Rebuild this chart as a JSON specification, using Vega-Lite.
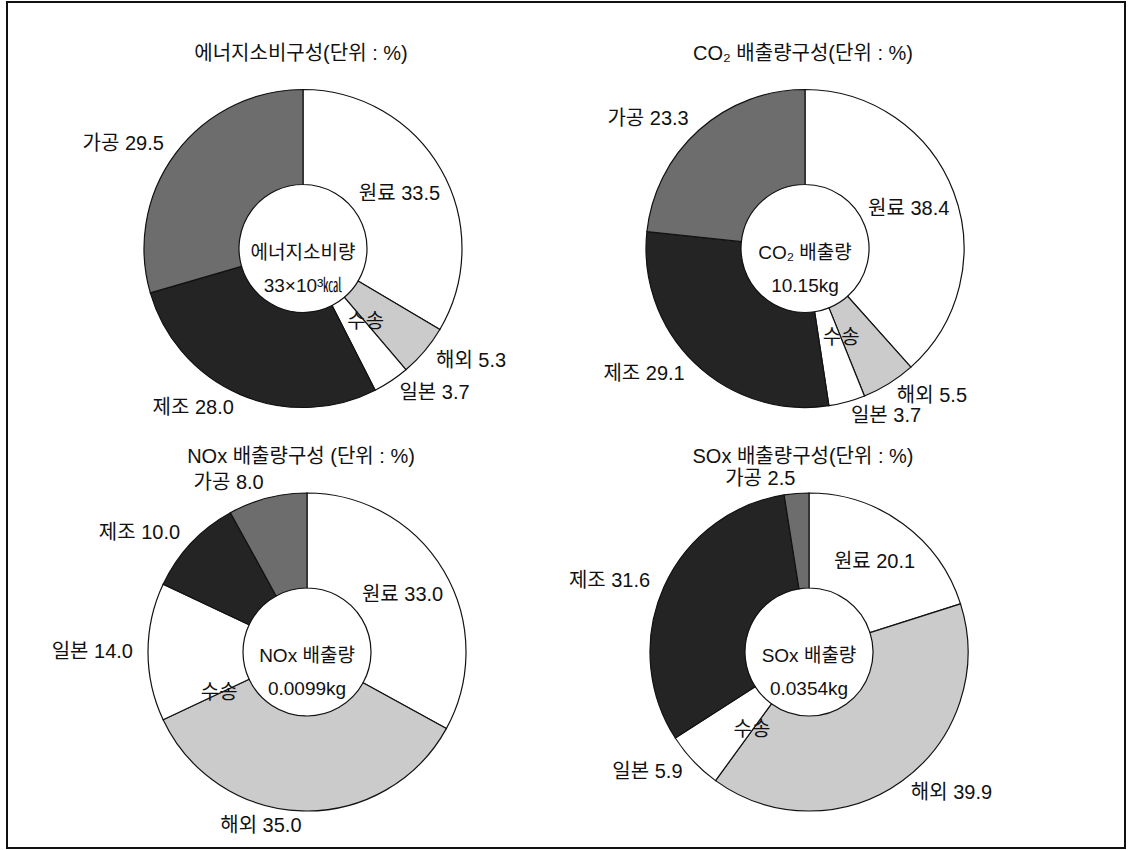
{
  "$schema": "https://vega.github.io/schema/vega-lite/v6.json",
  "width": 1118,
  "height": 846,
  "padding": {"left": 7, "top": 2, "right": 8, "bottom": 2},
  "autosize": {"type": "none"},
  "background": "white",
  "config": {
    "view": {"stroke": "#111111", "strokeWidth": 2},
    "text": {"font": "Liberation Sans, Noto Sans CJK KR", "fontSize": 20, "color": "#111111"}
  },
  "datasets": {
    "panels": [
      {"chart": "energy", "row": "top", "col": "left", "title": "에너지소비구성(단위 : %)", "center": "에너지소비량\n33×10³㎉"},
      {"chart": "co2", "row": "top", "col": "right", "title": "CO₂ 배출량구성(단위 : %)", "center": "CO₂ 배출량\n10.15kg"},
      {"chart": "nox", "row": "bottom", "col": "left", "title": "NOx 배출량구성 (단위 : %)", "center": "NOx 배출량\n0.0099kg"},
      {"chart": "sox", "row": "bottom", "col": "right", "title": "SOx 배출량구성(단위 : %)", "center": "SOx 배출량\n0.0354kg"}
    ],
    "shares": [
      {"chart": "energy", "category": "원료", "seq": 1, "value": 33.5},
      {"chart": "energy", "category": "해외", "seq": 2, "value": 5.3},
      {"chart": "energy", "category": "일본", "seq": 3, "value": 3.7},
      {"chart": "energy", "category": "제조", "seq": 4, "value": 28.0},
      {"chart": "energy", "category": "가공", "seq": 5, "value": 29.5},
      {"chart": "co2", "category": "원료", "seq": 1, "value": 38.4},
      {"chart": "co2", "category": "해외", "seq": 2, "value": 5.5},
      {"chart": "co2", "category": "일본", "seq": 3, "value": 3.7},
      {"chart": "co2", "category": "제조", "seq": 4, "value": 29.1},
      {"chart": "co2", "category": "가공", "seq": 5, "value": 23.3},
      {"chart": "nox", "category": "원료", "seq": 1, "value": 33.0},
      {"chart": "nox", "category": "해외", "seq": 2, "value": 35.0},
      {"chart": "nox", "category": "일본", "seq": 3, "value": 14.0},
      {"chart": "nox", "category": "제조", "seq": 4, "value": 10.0},
      {"chart": "nox", "category": "가공", "seq": 5, "value": 8.0},
      {"chart": "sox", "category": "원료", "seq": 1, "value": 20.1},
      {"chart": "sox", "category": "해외", "seq": 2, "value": 39.9},
      {"chart": "sox", "category": "일본", "seq": 3, "value": 5.9},
      {"chart": "sox", "category": "제조", "seq": 4, "value": 31.6},
      {"chart": "sox", "category": "가공", "seq": 5, "value": 2.5}
    ]
  },
  "data": {"name": "shares"},
  "transform": [
    {"lookup": "chart", "from": {"data": {"name": "panels"}, "key": "chart", "fields": ["row", "col"]}},
    {"calculate": "datum.category + ' ' + format(datum.value, '.1f')", "as": "label"}
  ],
  "encoding": {
    "x": {"field": "col", "type": "nominal", "scale": {"type": "point", "padding": 0, "domain": ["left", "right"], "range": [294, 796]}, "axis": null},
    "y": {"field": "row", "type": "nominal", "scale": {"type": "point", "padding": 0, "domain": ["top", "bottom"], "range": [246.5, 650]}, "axis": null}
  },
  "layer": [
    {
      "data": {"name": "panels"},
      "mark": {"type": "text", "dy": -195, "baseline": "middle"},
      "encoding": {"text": {"field": "title", "type": "nominal"}}
    },
    {
      "transform": [{"filter": {"field": "chart", "equal": "energy"}}],
      "encoding": {
        "xOffset": {"field": "row", "type": "nominal", "scale": {"domain": ["top", "bottom"], "range": [0, 8]}},
        "theta": {"field": "value", "type": "quantitative", "stack": true, "scale": {"domain": [0, 100]}},
        "order": {"field": "seq", "type": "quantitative"},
        "detail": {"field": "category", "type": "nominal"}
      },
      "layer": [
        {"mark": {"type": "arc", "outerRadius": 159, "innerRadius": 64, "stroke": "#111111", "strokeWidth": 1.2},
         "encoding": {"color": {"field": "category", "type": "nominal", "scale": {"domain": ["원료", "해외", "일본", "제조", "가공"], "range": ["#ffffff", "#cbcbcb", "#ffffff", "#242424", "#6d6d6d"]}, "legend": null}}},
        {"mark": {"type": "text", "radius": 174, "align": "left", "baseline": "middle"},
         "encoding": {"text": {"condition": {"test": "datum.category !== '원료' && datum.value_start + datum.value_end < 100", "field": "label"}, "value": ""}}},
        {"mark": {"type": "text", "radius": 174, "align": "right", "baseline": "middle"},
         "encoding": {"text": {"condition": {"test": "datum.category !== '원료' && datum.value_start + datum.value_end >= 100", "field": "label"}, "value": ""}}},
        {"mark": {"type": "text", "radius": 111, "align": "center", "baseline": "middle"},
         "encoding": {"text": {"condition": {"test": "datum.category === '원료'", "field": "label"}, "value": ""}}},
        {"mark": {"type": "text", "radius": 97, "align": "center", "baseline": "middle"},
         "encoding": {
           "theta": {"field": "value", "type": "quantitative", "stack": true, "bandPosition": 1, "scale": {"domain": [0, 100]}},
           "text": {"condition": {"test": "datum.category === '해외'", "value": "수송"}, "value": ""}}}
      ]
    },
    {
      "transform": [{"filter": {"field": "chart", "equal": "co2"}}],
      "encoding": {
        "xOffset": {"field": "row", "type": "nominal", "scale": {"domain": ["top", "bottom"], "range": [0, 8]}},
        "theta": {"field": "value", "type": "quantitative", "stack": true, "scale": {"domain": [0, 100]}},
        "order": {"field": "seq", "type": "quantitative"},
        "detail": {"field": "category", "type": "nominal"}
      },
      "layer": [
        {"mark": {"type": "arc", "outerRadius": 159, "innerRadius": 64, "stroke": "#111111", "strokeWidth": 1.2},
         "encoding": {"color": {"field": "category", "type": "nominal", "scale": {"domain": ["원료", "해외", "일본", "제조", "가공"], "range": ["#ffffff", "#cbcbcb", "#ffffff", "#242424", "#6d6d6d"]}, "legend": null}}},
        {"mark": {"type": "text", "radius": 174, "align": "left", "baseline": "middle"},
         "encoding": {"text": {"condition": {"test": "datum.category !== '원료' && datum.value_start + datum.value_end < 100", "field": "label"}, "value": ""}}},
        {"mark": {"type": "text", "radius": 174, "align": "right", "baseline": "middle"},
         "encoding": {"text": {"condition": {"test": "datum.category !== '원료' && datum.value_start + datum.value_end >= 100", "field": "label"}, "value": ""}}},
        {"mark": {"type": "text", "radius": 111, "align": "center", "baseline": "middle"},
         "encoding": {"text": {"condition": {"test": "datum.category === '원료'", "field": "label"}, "value": ""}}},
        {"mark": {"type": "text", "radius": 97, "align": "center", "baseline": "middle"},
         "encoding": {
           "theta": {"field": "value", "type": "quantitative", "stack": true, "bandPosition": 1, "scale": {"domain": [0, 100]}},
           "text": {"condition": {"test": "datum.category === '해외'", "value": "수송"}, "value": ""}}}
      ]
    },
    {
      "transform": [{"filter": {"field": "chart", "equal": "nox"}}],
      "encoding": {
        "xOffset": {"field": "row", "type": "nominal", "scale": {"domain": ["top", "bottom"], "range": [0, 8]}},
        "theta": {"field": "value", "type": "quantitative", "stack": true, "scale": {"domain": [0, 100]}},
        "order": {"field": "seq", "type": "quantitative"},
        "detail": {"field": "category", "type": "nominal"}
      },
      "layer": [
        {"mark": {"type": "arc", "outerRadius": 159, "innerRadius": 64, "stroke": "#111111", "strokeWidth": 1.2},
         "encoding": {"color": {"field": "category", "type": "nominal", "scale": {"domain": ["원료", "해외", "일본", "제조", "가공"], "range": ["#ffffff", "#cbcbcb", "#ffffff", "#242424", "#6d6d6d"]}, "legend": null}}},
        {"mark": {"type": "text", "radius": 174, "align": "left", "baseline": "middle"},
         "encoding": {"text": {"condition": {"test": "datum.category !== '원료' && datum.value_start + datum.value_end < 100", "field": "label"}, "value": ""}}},
        {"mark": {"type": "text", "radius": 174, "align": "right", "baseline": "middle"},
         "encoding": {"text": {"condition": {"test": "datum.category !== '원료' && datum.value_start + datum.value_end >= 100", "field": "label"}, "value": ""}}},
        {"mark": {"type": "text", "radius": 111, "align": "center", "baseline": "middle"},
         "encoding": {"text": {"condition": {"test": "datum.category === '원료'", "field": "label"}, "value": ""}}},
        {"mark": {"type": "text", "radius": 97, "align": "center", "baseline": "middle"},
         "encoding": {
           "theta": {"field": "value", "type": "quantitative", "stack": true, "bandPosition": 1, "scale": {"domain": [0, 100]}},
           "text": {"condition": {"test": "datum.category === '해외'", "value": "수송"}, "value": ""}}}
      ]
    },
    {
      "transform": [{"filter": {"field": "chart", "equal": "sox"}}],
      "encoding": {
        "xOffset": {"field": "row", "type": "nominal", "scale": {"domain": ["top", "bottom"], "range": [0, 8]}},
        "theta": {"field": "value", "type": "quantitative", "stack": true, "scale": {"domain": [0, 100]}},
        "order": {"field": "seq", "type": "quantitative"},
        "detail": {"field": "category", "type": "nominal"}
      },
      "layer": [
        {"mark": {"type": "arc", "outerRadius": 159, "innerRadius": 64, "stroke": "#111111", "strokeWidth": 1.2},
         "encoding": {"color": {"field": "category", "type": "nominal", "scale": {"domain": ["원료", "해외", "일본", "제조", "가공"], "range": ["#ffffff", "#cbcbcb", "#ffffff", "#242424", "#6d6d6d"]}, "legend": null}}},
        {"mark": {"type": "text", "radius": 174, "align": "left", "baseline": "middle"},
         "encoding": {"text": {"condition": {"test": "datum.category !== '원료' && datum.value_start + datum.value_end < 100", "field": "label"}, "value": ""}}},
        {"mark": {"type": "text", "radius": 174, "align": "right", "baseline": "middle"},
         "encoding": {"text": {"condition": {"test": "datum.category !== '원료' && datum.value_start + datum.value_end >= 100", "field": "label"}, "value": ""}}},
        {"mark": {"type": "text", "radius": 111, "align": "center", "baseline": "middle"},
         "encoding": {"text": {"condition": {"test": "datum.category === '원료'", "field": "label"}, "value": ""}}},
        {"mark": {"type": "text", "radius": 97, "align": "center", "baseline": "middle"},
         "encoding": {
           "theta": {"field": "value", "type": "quantitative", "stack": true, "bandPosition": 1, "scale": {"domain": [0, 100]}},
           "text": {"condition": {"test": "datum.category === '해외'", "value": "수송"}, "value": ""}}}
      ]
    },
    {
      "data": {"name": "panels"},
      "mark": {"type": "text", "lineBreak": "\n", "lineHeight": 33, "baseline": "middle", "dy": 4, "fontSize": 19},
      "encoding": {
        "xOffset": {"field": "row", "type": "nominal", "scale": {"domain": ["top", "bottom"], "range": [0, 8]}},
        "text": {"field": "center", "type": "nominal"}
      }
    }
  ]
}
